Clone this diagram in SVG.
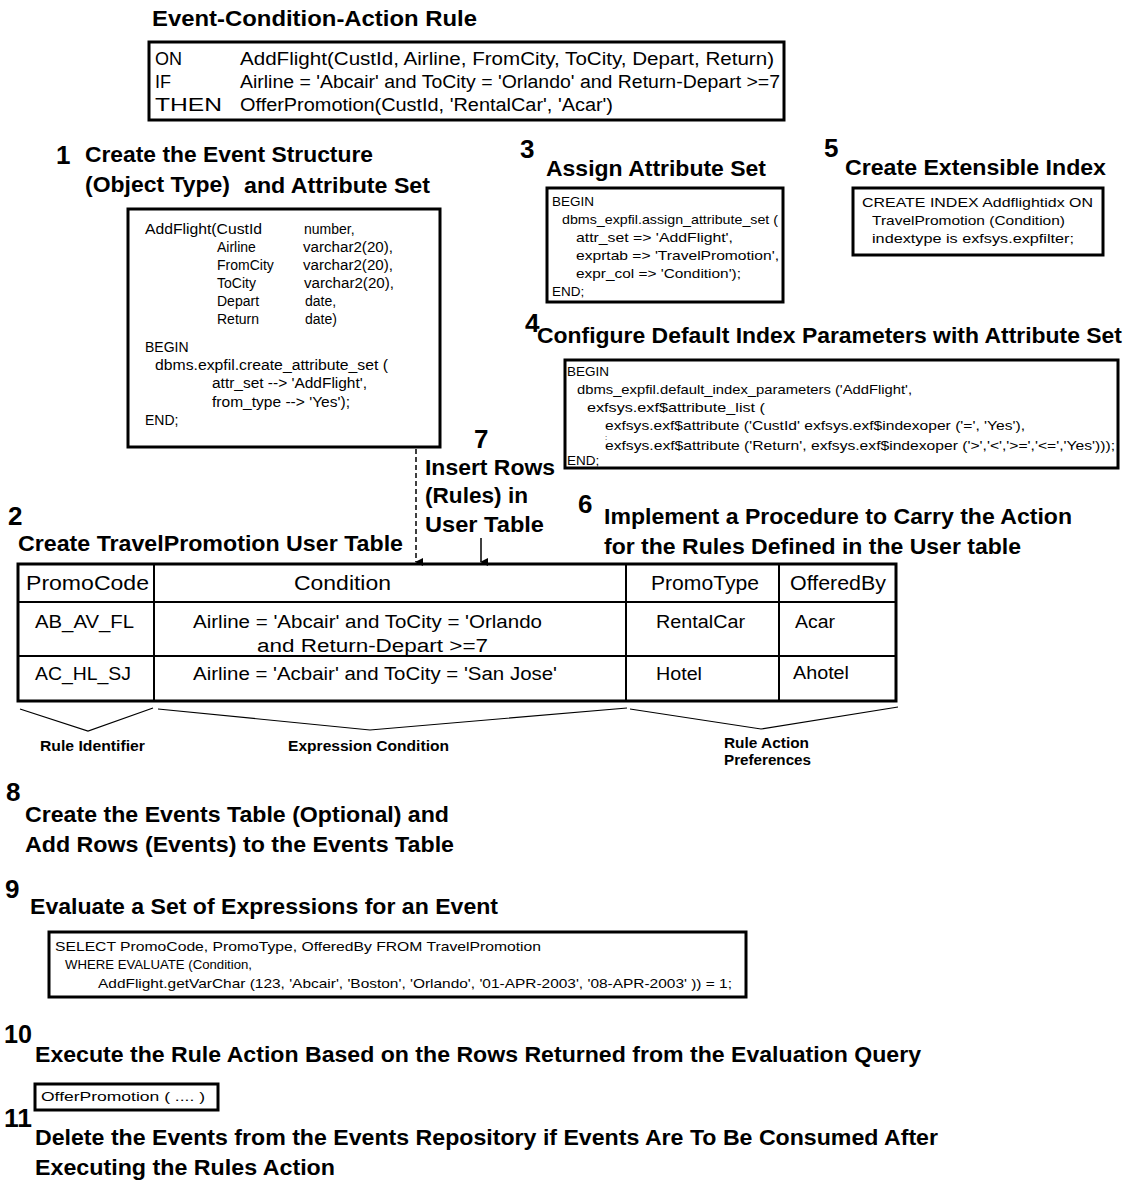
<svg xmlns="http://www.w3.org/2000/svg" width="1124" height="1182" viewBox="0 0 1124 1182">
<style>
text{font-family:"Liberation Sans",Arial,sans-serif;fill:#000}
.h{font-weight:bold;font-size:22px}
.n{font-weight:bold;font-size:26px}
.t{font-size:18px}
.c{font-size:14px}
.s{font-size:13.5px}
.tb{font-size:20px}
.tr{font-size:18px}
.lb{font-weight:bold;font-size:14px}
.box{fill:#fff;stroke:#000;stroke-width:3}
.ln{fill:none;stroke:#000;stroke-width:1.2}
</style>
<defs>
<marker id="ah" markerWidth="8" markerHeight="8" refX="4" refY="7" orient="auto" markerUnits="userSpaceOnUse" viewBox="0 0 8 8">
<path d="M0,0 L8,0 L4,8 Z" fill="#000"/>
</marker>
</defs>
<rect width="1124" height="1182" fill="#fff"/>

<g id="eca-rule">
<text class="h" x="152" y="26" textLength="325" lengthAdjust="spacingAndGlyphs">Event-Condition-Action Rule</text>
<rect class="box" x="149" y="42" width="635" height="78"/>
<text class="t" x="155" y="65">ON</text>
<text class="t" x="155" y="88">IF</text>
<text class="t" x="155" y="111" textLength="67" lengthAdjust="spacingAndGlyphs">THEN</text>
<text class="t" x="240" y="65" textLength="534" lengthAdjust="spacingAndGlyphs">AddFlight(CustId, Airline, FromCity, ToCity, Depart, Return)</text>
<text class="t" x="240" y="88" textLength="540" lengthAdjust="spacingAndGlyphs">Airline = 'Abcair' and ToCity = 'Orlando' and Return-Depart &gt;=7</text>
<text class="t" x="240" y="111" textLength="373" lengthAdjust="spacingAndGlyphs">OfferPromotion(CustId, 'RentalCar', 'Acar')</text>
</g>

<g id="step1">
<text class="n" x="56" y="164">1</text>
<text class="h" x="85" y="162" textLength="288" lengthAdjust="spacingAndGlyphs">Create the Event Structure</text>
<text class="h" x="85" y="192" textLength="145" lengthAdjust="spacingAndGlyphs">(Object Type)</text>
<text class="h" x="244" y="193" textLength="186" lengthAdjust="spacingAndGlyphs">and Attribute Set</text>
<rect class="box" x="128" y="209" width="312" height="238"/>
<text class="c" x="145" y="234" textLength="117" lengthAdjust="spacingAndGlyphs">AddFlight(CustId</text>
<text class="c" x="304" y="234">number,</text>
<text class="c" x="217" y="252">Airline</text>
<text class="c" x="303" y="252" textLength="90" lengthAdjust="spacingAndGlyphs">varchar2(20),</text>
<text class="c" x="217" y="270">FromCity</text>
<text class="c" x="303" y="270" textLength="90" lengthAdjust="spacingAndGlyphs">varchar2(20),</text>
<text class="c" x="217" y="288">ToCity</text>
<text class="c" x="304" y="288" textLength="90" lengthAdjust="spacingAndGlyphs">varchar2(20),</text>
<text class="c" x="217" y="306">Depart</text>
<text class="c" x="305" y="306">date,</text>
<text class="c" x="217" y="324">Return</text>
<text class="c" x="305" y="324">date)</text>
<text class="c" x="145" y="352">BEGIN</text>
<text class="c" x="155" y="370" textLength="233" lengthAdjust="spacingAndGlyphs">dbms.expfil.create_attribute_set (</text>
<text class="c" x="212" y="388" textLength="155" lengthAdjust="spacingAndGlyphs">attr_set --&gt; 'AddFlight',</text>
<text class="c" x="212" y="407" textLength="138" lengthAdjust="spacingAndGlyphs">from_type --&gt; 'Yes');</text>
<text class="c" x="145" y="425">END;</text>
</g>

<g id="step3">
<text class="n" x="520" y="158">3</text>
<text class="h" x="546" y="176" textLength="220" lengthAdjust="spacingAndGlyphs">Assign Attribute Set</text>
<rect class="box" x="547" y="188" width="236" height="114"/>
<text class="s" x="552" y="206">BEGIN</text>
<text class="s" x="562" y="224" textLength="216" lengthAdjust="spacingAndGlyphs">dbms_expfil.assign_attribute_set (</text>
<text class="s" x="576" y="242" textLength="157" lengthAdjust="spacingAndGlyphs">attr_set =&gt; 'AddFlight',</text>
<text class="s" x="576" y="260" textLength="203" lengthAdjust="spacingAndGlyphs">exprtab =&gt; 'TravelPromotion',</text>
<text class="s" x="576" y="278" textLength="165" lengthAdjust="spacingAndGlyphs">expr_col =&gt; 'Condition');</text>
<text class="s" x="552" y="296">END;</text>
</g>

<g id="step5">
<text class="n" x="824" y="157">5</text>
<text class="h" x="845" y="175" textLength="261" lengthAdjust="spacingAndGlyphs">Create Extensible Index</text>
<rect class="box" x="853" y="188" width="250" height="67"/>
<text class="s" x="862" y="207" textLength="231" lengthAdjust="spacingAndGlyphs">CREATE INDEX Addflightidx ON</text>
<text class="s" x="872" y="225" textLength="193" lengthAdjust="spacingAndGlyphs">TravelPromotion (Condition)</text>
<text class="s" x="872" y="243" textLength="202" lengthAdjust="spacingAndGlyphs">indextype is exfsys.expfilter;</text>
</g>

<g id="step4">
<text class="n" x="525" y="332">4</text>
<text class="h" x="537" y="343" textLength="585" lengthAdjust="spacingAndGlyphs">Configure Default Index Parameters with Attribute Set</text>
<rect class="box" x="565" y="360" width="553" height="108"/>
<text class="s" x="567" y="376">BEGIN</text>
<text class="s" x="577" y="394" textLength="335" lengthAdjust="spacingAndGlyphs">dbms_expfil.default_index_parameters ('AddFlight',</text>
<text class="s" x="587" y="412" textLength="178" lengthAdjust="spacingAndGlyphs">exfsys.exf$attribute_list (</text>
<text class="s" x="605" y="430" textLength="420" lengthAdjust="spacingAndGlyphs">exfsys.exf$attribute ('CustId' exfsys.exf$indexoper ('=', 'Yes'),</text>
<text x="605" y="440" style="font-size:8px">:</text>
<text class="s" x="605" y="450" textLength="510" lengthAdjust="spacingAndGlyphs">exfsys.exf$attribute ('Return', exfsys.exf$indexoper ('&gt;','&lt;','&gt;=','&lt;=','Yes')));</text>
<text class="s" x="567" y="465">END;</text>
</g>

<g id="step7">
<text class="n" x="474" y="448">7</text>
<text class="h" x="425" y="475" textLength="130" lengthAdjust="spacingAndGlyphs">Insert Rows</text>
<text class="h" x="425" y="503" textLength="103" lengthAdjust="spacingAndGlyphs">(Rules) in</text>
<text class="h" x="425" y="532" textLength="119" lengthAdjust="spacingAndGlyphs">User Table</text>
</g>

<g id="step2">
<text class="n" x="8" y="525">2</text>
<text class="h" x="18" y="551" textLength="385" lengthAdjust="spacingAndGlyphs">Create TravelPromotion User Table</text>
</g>

<g id="step6">
<text class="n" x="578" y="513">6</text>
<text class="h" x="604" y="524" textLength="468" lengthAdjust="spacingAndGlyphs">Implement a Procedure to Carry the Action</text>
<text class="h" x="604" y="554" textLength="417" lengthAdjust="spacingAndGlyphs">for the Rules Defined in the User table</text>
</g>

<g id="user-table">
<rect x="18" y="564" width="878" height="137" fill="#fff" stroke="#000" stroke-width="3"/>
<line x1="18" y1="602" x2="896" y2="602" stroke="#000" stroke-width="2"/>
<line x1="18" y1="656" x2="896" y2="656" stroke="#000" stroke-width="2"/>
<line x1="154" y1="564" x2="154" y2="701" stroke="#000" stroke-width="2"/>
<line x1="626" y1="564" x2="626" y2="701" stroke="#000" stroke-width="2"/>
<line x1="779" y1="564" x2="779" y2="701" stroke="#000" stroke-width="2"/>
<text class="tb" x="26" y="590" textLength="123" lengthAdjust="spacingAndGlyphs">PromoCode</text>
<text class="tb" x="294" y="590" textLength="97" lengthAdjust="spacingAndGlyphs">Condition</text>
<text class="tb" x="651" y="590" textLength="108" lengthAdjust="spacingAndGlyphs">PromoType</text>
<text class="tb" x="790" y="590" textLength="96" lengthAdjust="spacingAndGlyphs">OfferedBy</text>
<text class="tr" x="35" y="628" textLength="99" lengthAdjust="spacingAndGlyphs">AB_AV_FL</text>
<text class="tr" x="193" y="628" textLength="349" lengthAdjust="spacingAndGlyphs">Airline = 'Abcair' and ToCity = 'Orlando</text>
<text class="tr" x="257" y="652" textLength="231" lengthAdjust="spacingAndGlyphs">and Return-Depart &gt;=7</text>
<text class="tr" x="656" y="628" textLength="89" lengthAdjust="spacingAndGlyphs">RentalCar</text>
<text class="tr" x="795" y="628" textLength="40" lengthAdjust="spacingAndGlyphs">Acar</text>
<text class="tr" x="35" y="680" textLength="96" lengthAdjust="spacingAndGlyphs">AC_HL_SJ</text>
<text class="tr" x="193" y="680" textLength="364" lengthAdjust="spacingAndGlyphs">Airline = 'Acbair' and ToCity = 'San Jose'</text>
<text class="tr" x="656" y="680" textLength="46" lengthAdjust="spacingAndGlyphs">Hotel</text>
<text class="tr" x="793" y="679" textLength="56" lengthAdjust="spacingAndGlyphs">Ahotel</text>
</g>

<g id="table-brackets">
<polyline class="ln" points="20,709 88,731 153,708"/>
<polyline class="ln" points="158,709 370,730 627,708"/>
<polyline class="ln" points="630,709 761,729 898,707"/>
<text class="lb" x="40" y="751" textLength="105" lengthAdjust="spacingAndGlyphs">Rule Identifier</text>
<text class="lb" x="288" y="751" textLength="161" lengthAdjust="spacingAndGlyphs">Expression Condition</text>
<text class="lb" x="724" y="748" textLength="85" lengthAdjust="spacingAndGlyphs">Rule Action</text>
<text class="lb" x="724" y="765" textLength="87" lengthAdjust="spacingAndGlyphs">Preferences</text>
</g>

<g id="step8">
<text class="n" x="6" y="801">8</text>
<text class="h" x="25" y="822" textLength="424" lengthAdjust="spacingAndGlyphs">Create the Events Table (Optional) and</text>
<text class="h" x="25" y="852" textLength="429" lengthAdjust="spacingAndGlyphs">Add Rows (Events) to the Events Table</text>
</g>

<g id="step9">
<text class="n" x="5" y="898">9</text>
<text class="h" x="30" y="914" textLength="468" lengthAdjust="spacingAndGlyphs">Evaluate a Set of Expressions for an Event</text>
<rect class="box" x="49" y="932" width="697" height="65"/>
<text class="s" x="55" y="951" textLength="486" lengthAdjust="spacingAndGlyphs">SELECT PromoCode, PromoType, OfferedBy FROM TravelPromotion</text>
<text class="s" x="65" y="969" textLength="187" lengthAdjust="spacingAndGlyphs">WHERE EVALUATE (Condition,</text>
<text class="s" x="98" y="988" textLength="634" lengthAdjust="spacingAndGlyphs">AddFlight.getVarChar (123, 'Abcair', 'Boston', 'Orlando', '01-APR-2003', '08-APR-2003' )) = 1;</text>
</g>

<g id="step10">
<text class="n" x="4" y="1043" textLength="28" lengthAdjust="spacingAndGlyphs">10</text>
<text class="h" x="35" y="1062" textLength="886" lengthAdjust="spacingAndGlyphs">Execute the Rule Action Based on the Rows Returned from the Evaluation Query</text>
<rect class="box" x="35" y="1084" width="183" height="26"/>
<text x="41" y="1101" style="font-size:12px" textLength="164" lengthAdjust="spacingAndGlyphs">OfferPromotion (  .... )</text>
</g>

<g id="step11">
<text class="n" x="4" y="1127" textLength="28" lengthAdjust="spacingAndGlyphs">11</text>
<text class="h" x="35" y="1145" textLength="903" lengthAdjust="spacingAndGlyphs">Delete the Events from the Events Repository if Events Are To Be Consumed After</text>
<text class="h" x="35" y="1175" textLength="300" lengthAdjust="spacingAndGlyphs">Executing the Rules Action</text>
</g>

<g id="connectors">
<line x1="416" y1="449" x2="416" y2="562" stroke="#000" stroke-width="1.5" stroke-dasharray="5,3" marker-end="url(#ah)"/>
<line x1="481" y1="538" x2="481" y2="562" stroke="#000" stroke-width="1.5" marker-end="url(#ah)"/>
</g>
</svg>
